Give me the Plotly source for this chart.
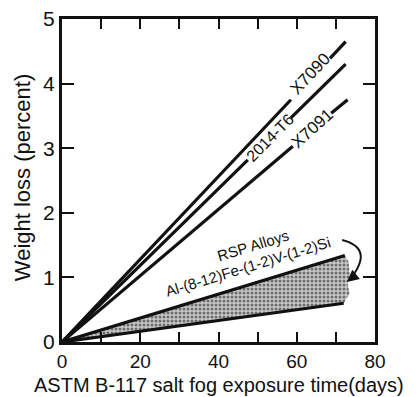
import plotly.graph_objects as go

# ---- data ----
x7090_x = [0, 58.5, None, 68.5, 72.5]
x7090_y = [0, 3.75, None, 4.39, 4.65]
t2014_x = [0, 47.5, None, 58.5, 72.5]
t2014_y = [0, 2.82, None, 3.47, 4.30]
x7091_x = [0, 59.0, None, 68.8, 73.0]
x7091_y = [0, 3.03, None, 3.54, 3.75]
rsp_upper_x = [0, 72.3]
rsp_upper_y = [0, 1.34]
rsp_lower_x = [0, 72.0]
rsp_lower_y = [0, 0.60]
band_x = [2, 72.3, 73.2, 73.6, 73.0, 73.5, 72.0, 2]
band_y = [0.03, 1.34, 1.25, 1.05, 0.90, 0.75, 0.60, 0.03]

x_ticks = [0, 20, 40, 60, 80]
y_ticks = [0, 1, 2, 3, 4, 5]

FONT = "Liberation Sans"
black = "#111"

fig = go.Figure()

# stippled band
fig.add_trace(go.Scatter(
    x=band_x, y=band_y, mode="lines", line=dict(width=0),
    fill="toself", fillcolor="rgba(0,0,0,0)",
    fillpattern=dict(shape=".", fgcolor="#111", bgcolor="#c8c8c8", size=4, solidity=0.45),
    hoverinfo="skip", showlegend=False))

for xs, ys in [(x7090_x, x7090_y), (t2014_x, t2014_y), (x7091_x, x7091_y),
               (rsp_upper_x, rsp_upper_y), (rsp_lower_x, rsp_lower_y)]:
    fig.add_trace(go.Scatter(x=xs, y=ys, mode="lines",
                             line=dict(color=black, width=3.2),
                             showlegend=False, hoverinfo="skip"))

# curved arrow
fig.add_shape(type="path", path="M 71.6,1.58 Q 80,1.45 73.6,0.97",
              line=dict(color=black, width=2), xref="x", yref="y")
fig.add_annotation(x=72.8, y=0.93, ax=74.6, ay=1.02, axref="x", ayref="y",
                   xref="x", yref="y", text="", showarrow=True,
                   arrowhead=2, arrowsize=1.2, arrowwidth=2, arrowcolor=black)

labels = [
    ("X7090", 63.6, 4.15, -47, 17),
    ("2014-T6", 53.2, 3.17, -45, 16),
    ("X7091", 64.0, 3.30, -42, 17),
    ("RSP Alloys", 48.7, 1.50, -17, 15),
    ("Al-(8-12)Fe-(1-2)V-(1-2)Si", 47.5, 1.17, -17, 15),
]
for t, x, y, ang, sz in labels:
    fig.add_annotation(x=x, y=y, text=t, textangle=ang, showarrow=False,
                       font=dict(family=FONT, size=sz, color=black))

# axis titles
fig.add_annotation(xref="paper", yref="paper", x=-0.128, y=0.51,
                   text="Weight loss (percent)", textangle=-90, showarrow=False,
                   xanchor="center", yanchor="middle",
                   font=dict(family=FONT, size=22, color=black))
fig.add_annotation(xref="paper", yref="paper", x=0.5, y=-0.132,
                   text="ASTM B-117 salt fog exposure time(days)", showarrow=False,
                   xanchor="center", yanchor="middle",
                   font=dict(family=FONT, size=20, color=black))

# the page body has an 8px margin, so the figure is drawn 8px smaller
fig.update_layout(
    width=412, height=389,
    margin=dict(l=54, r=45, t=11, b=55),
    paper_bgcolor="white", plot_bgcolor="white",
    font=dict(family=FONT, color=black),
)
fig.update_xaxes(range=[0, 80], tickvals=x_ticks, ticks="inside", ticklen=10,
                 tickwidth=2, tickcolor=black, showline=True, linewidth=3,
                 linecolor=black, mirror="ticks", showgrid=False, zeroline=False,
                 minor=dict(dtick=10, ticks="inside", ticklen=10, tickwidth=2, tickcolor=black),
                 tickfont=dict(size=19), automargin=False, ticklabeloverflow="allow")
fig.update_yaxes(range=[0, 5], tickvals=y_ticks, ticks="inside", ticklen=12,
                 tickwidth=2, tickcolor=black, showline=True, linewidth=3,
                 linecolor=black, mirror="ticks", showgrid=False, zeroline=False,
                 tickfont=dict(size=21), automargin=False, ticklabeloverflow="allow")

fig.write_html("out.html")
